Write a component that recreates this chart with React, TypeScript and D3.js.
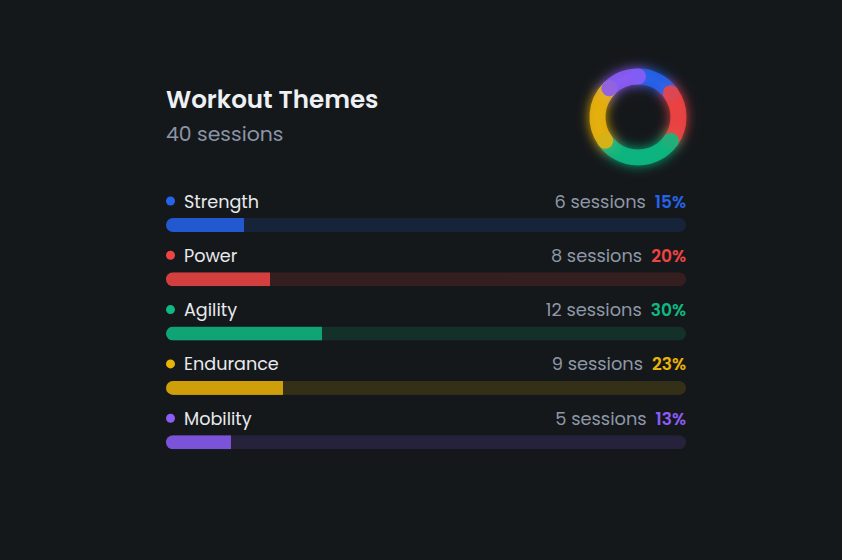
import React from "react";
import * as d3 from "d3";

const categories = ["Strength", "Power", "Agility", "Endurance", "Mobility"];
const sessions = [6, 8, 12, 9, 5];
const colors = ["#2563eb", "#ef4444", "#10b981", "#eab308", "#8b5cf6"];
const title = "Workout Themes";

const W = 842;
const H = 560;
const FONT = "Poppins, 'Open Sans', Inter, sans-serif";

export default function App() {
  const total = d3.sum(sessions);
  const x0 = 166;
  const x1 = 686;
  const x = d3.scaleLinear().domain([0, total]).range([0, x1 - x0]);
  const rowY = d3.scaleLinear().domain([0, 1]).range([201, 255.3]);

  const cx = 638;
  const cy = 117;
  const r = 40.5;
  const sw = 16;
  const pie = d3.pie<number>().sort(null).value((d) => d)(sessions);
  const arcPath = (a0: number, a1: number) => {
    const p = d3.path();
    p.arc(0, 0, r, a0 - Math.PI / 2, a1 - Math.PI / 2, false);
    return p.toString();
  };

  return (
    <svg width={W} height={H} style={{ position: "absolute", left: 0, top: 0, background: "#15181b" }}>
      <defs>
        <filter id="glow" x="-50%" y="-50%" width="200%" height="200%">
          <feGaussianBlur in="SourceGraphic" stdDeviation="6" result="b" />
          <feMerge>
            <feMergeNode in="b" />
            <feMergeNode in="SourceGraphic" />
          </feMerge>
        </filter>
        {categories.map((c, i) => (
          <clipPath id={`clip${i}`} key={c}>
            <rect x={x0} y={rowY(i) + 17} width={x1 - x0} height={14} rx={7} />
          </clipPath>
        ))}
      </defs>
      <rect width={W} height={H} fill="#15181b" />
      <text x={x0} y={108} fill="#eef0f3" fontFamily={FONT} fontWeight={600} fontSize={24.6}>
        {title}
      </text>
      <text x={x0} y={141} fill="#8b95a7" fontFamily={FONT} fontSize={20.4}>
        {`${total} sessions`}
      </text>

      <g transform={`translate(${cx},${cy})`} filter="url(#glow)">
        {pie.map((s, i) => (
          <path
            key={i}
            d={arcPath(s.startAngle, s.endAngle)}
            fill="none"
            stroke={colors[i]}
            strokeWidth={sw}
            strokeLinecap="round"
            opacity={0.9}
          />
        ))}
      </g>

      {categories.map((c, i) => {
        const y = rowY(i);
        const pct = Math.round((sessions[i] / total) * 100);
        return (
          <g key={c}>
            <circle cx={x0 + 4.5} cy={y} r={4.5} fill={colors[i]} />
            <text x={x0 + 18} y={y + 6.5} fill="#e8eaed" fontFamily={FONT} fontSize={17.6}>
              {c}
            </text>
            <text x={x1} y={y + 6.5} textAnchor="end" fontFamily={FONT} fontSize={17.8}>
              <tspan fill="#8e97a6">{`${sessions[i]} sessions`}</tspan>
              <tspan dx={9} fill={colors[i]} fontWeight={600} fontSize={17}>{`${pct}%`}</tspan>
            </text>
            <g clipPath={`url(#clip${i})`}>
              <rect x={x0} y={y + 17} width={x1 - x0} height={14} fill={colors[i]} opacity={0.15} />
              <rect x={x0} y={y + 17} width={x(sessions[i])} height={14} fill={colors[i]} opacity={0.85} />
            </g>
          </g>
        );
      })}
    </svg>
  );
}
